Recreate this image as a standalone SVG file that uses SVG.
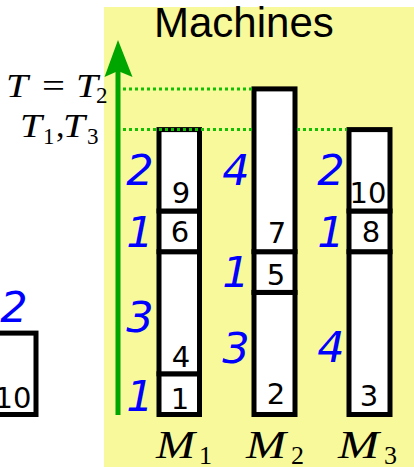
<svg xmlns="http://www.w3.org/2000/svg" width="414" height="467" viewBox="0 0 414 467">
<style>
.box{fill:#fff;stroke:#000;stroke-width:5}
.num{font-family:"DejaVu Sans",sans-serif;font-size:29px;fill:#000;text-anchor:middle}
.dur{font-family:"DejaVu Sans",sans-serif;font-style:oblique;font-size:43px;fill:#0000ff;text-anchor:middle}
.math{font-family:"Liberation Serif",serif;fill:#000}
.it{font-style:italic}
.tt{font-size:34px}
.sub{font-size:23px}
.mm{font-size:39px}
.msub{font-size:26px}
.dot{stroke:#11c000;stroke-width:3;stroke-dasharray:3 3;fill:none}
</style>
<rect x="104" y="7" width="310" height="460" fill="#f7f99b"/>
<text x="154" y="37" font-family="'Liberation Sans',Arial,sans-serif" font-size="42" fill="#000">Machines</text>

<g id="labels-T">
<text class="math it tt" x="6" y="97" textLength="22" lengthAdjust="spacingAndGlyphs">T</text>
<text class="math tt" x="42" y="97" textLength="23" lengthAdjust="spacingAndGlyphs">=</text>
<text class="math it tt" x="76" y="97" textLength="22" lengthAdjust="spacingAndGlyphs">T</text>
<text class="math sub" x="96" y="103">2</text>
<text class="math it tt" x="20" y="137" textLength="22" lengthAdjust="spacingAndGlyphs">T</text>
<text class="math sub" x="43" y="144">1</text>
<text class="math tt" x="56" y="137">,</text>
<text class="math it tt" x="63" y="137" textLength="22" lengthAdjust="spacingAndGlyphs">T</text>
<text class="math sub" x="87" y="144">3</text>
</g>

<g id="prev-job">
<rect class="box" x="-5" y="333.1" width="41" height="81.4"/>
<text class="num" x="13" y="408">10</text>
<text class="dur" x="14" y="322">2</text>
</g>

<g id="M1">
<rect class="box" x="159" y="373.8" width="40.5" height="40.7"/>
<rect class="box" x="159" y="251.7" width="40.5" height="122.1"/>
<rect class="box" x="159" y="211" width="40.5" height="40.7"/>
<rect class="box" x="159" y="129.6" width="40.5" height="81.4"/>
<text class="num" x="180" y="409">1</text>
<text class="num" x="181" y="367">4</text>
<text class="num" x="180" y="242">6</text>
<text class="num" x="181" y="203">9</text>
<text class="dur" x="140" y="411">1</text>
<text class="dur" x="140" y="332">3</text>
<text class="dur" x="140" y="247">1</text>
<text class="dur" x="140" y="185">2</text>
<text class="math it mm" x="156" y="458" textLength="39" lengthAdjust="spacingAndGlyphs">M</text>
<text class="math msub" x="199" y="464">1</text>
</g>

<g id="M2">
<rect class="box" x="254" y="292.4" width="41" height="122.1"/>
<rect class="box" x="254" y="251.7" width="41" height="40.7"/>
<rect class="box" x="254" y="88.9" width="41" height="162.8"/>
<text class="num" x="276" y="404">2</text>
<text class="num" x="276" y="285">5</text>
<text class="num" x="277" y="243">7</text>
<text class="dur" x="236" y="363">3</text>
<text class="dur" x="236" y="287">1</text>
<text class="dur" x="236" y="185">4</text>
<text class="math it mm" x="246" y="458" textLength="40" lengthAdjust="spacingAndGlyphs">M</text>
<text class="math msub" x="291" y="464">2</text>
</g>

<g id="M3">
<rect class="box" x="349" y="251.7" width="41" height="162.8"/>
<rect class="box" x="349" y="211" width="41" height="40.7"/>
<rect class="box" x="349" y="129.6" width="41" height="81.4"/>
<text class="num" x="369" y="406">3</text>
<text class="num" x="371" y="242">8</text>
<text class="num" x="368" y="203">10</text>
<text class="dur" x="331" y="362">4</text>
<text class="dur" x="331" y="247">1</text>
<text class="dur" x="331" y="185">2</text>
<text class="math it mm" x="338" y="458" textLength="41" lengthAdjust="spacingAndGlyphs">M</text>
<text class="math msub" x="384" y="464">3</text>
</g>

<g id="connectors">
<line x1="118" y1="415" x2="118" y2="70" stroke="#00a600" stroke-width="5"/>
<polygon points="118,40 132.5,77 118,71 104.5,77" fill="#00a600"/>
<line class="dot" x1="123" y1="88.9" x2="252" y2="88.9"/>
<line class="dot" x1="123" y1="129.6" x2="252" y2="129.6"/>
<line class="dot" x1="297" y1="129.6" x2="347" y2="129.6"/>
</g>
</svg>
